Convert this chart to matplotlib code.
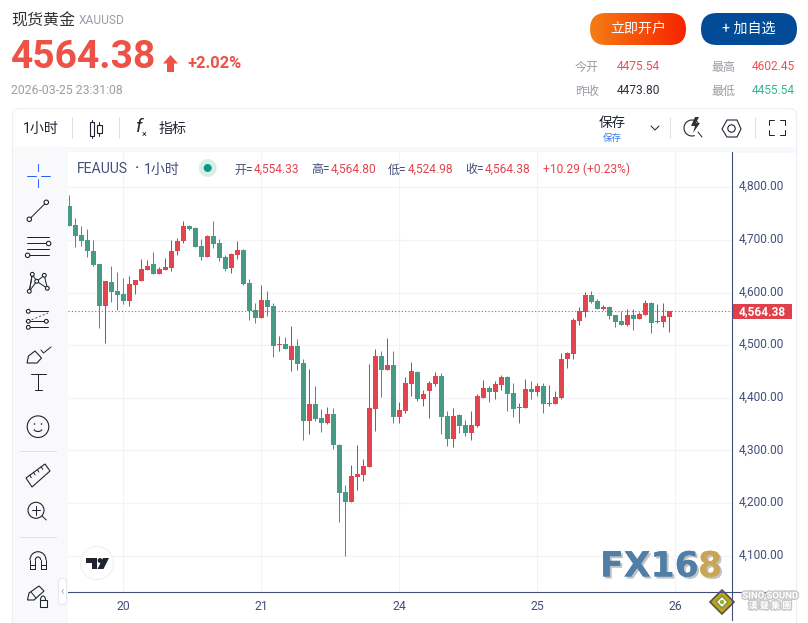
import numpy as np
import matplotlib
matplotlib.use('Agg')
import matplotlib.pyplot as plt
import matplotlib.patheffects as pe
from matplotlib.patches import Circle, FancyBboxPatch, Polygon, Rectangle, Arc
from matplotlib.transforms import ScaledTranslation

# hourly gold candles
opens = [4764, 4728, 4709, 4700, 4679, 4654, 4575, 4620, 4603, 4597, 4584, 4614, 4622, 4643, 4654, 4636, 4643,
         4647, 4678, 4697, 4726, 4723, 4688, 4668, 4707, 4694, 4667, 4646, 4672, 4680, 4619, 4566, 4552, 4585,
         4575, 4501, 4503, 4471, 4499, 4467, 4355, 4389, 4362, 4353, 4370, 4311, 4221, 4202, 4250, 4254, 4269,
         4379, 4480, 4453, 4462, 4363, 4375, 4426, 4449, 4397, 4413, 4426, 4441, 4365, 4321, 4367, 4348, 4333,
         4346, 4399, 4418, 4411, 4424, 4439, 4409, 4380, 4380, 4416, 4411, 4422, 4388, 4388, 4399, 4473, 4483,
         4546, 4563, 4595, 4584, 4568, 4572, 4557, 4546, 4538, 4557, 4549, 4557, 4580, 4544, 4544, 4554.33]
highs = [4785, 4742, 4726, 4720, 4700, 4654, 4622, 4650, 4639, 4628, 4631, 4624, 4664, 4662, 4677, 4648, 4666,
         4700, 4704, 4736, 4728, 4725, 4702, 4709, 4736, 4702, 4671, 4676, 4697, 4682, 4625, 4581, 4615, 4602,
         4581, 4518, 4516, 4537, 4512, 4474, 4455, 4423, 4379, 4383, 4381, 4313, 4235, 4273, 4311, 4284, 4465,
         4493, 4488, 4514, 4489, 4392, 4439, 4468, 4451, 4414, 4432, 4449, 4447, 4375, 4380, 4369, 4357, 4375,
         4407, 4433, 4422, 4432, 4443, 4441, 4428, 4390, 4435, 4432, 4428, 4428, 4424, 4413, 4485, 4487, 4551,
         4572, 4601, 4603, 4587, 4576, 4574, 4557, 4565, 4568, 4568, 4563, 4586, 4582, 4578, 4580, 4564.80]
lows = [4727, 4687, 4689, 4668, 4650, 4533, 4504, 4582, 4567, 4579, 4575, 4598, 4622, 4643, 4636, 4636, 4643,
        4641, 4672, 4695, 4718, 4687, 4662, 4668, 4685, 4660, 4640, 4638, 4663, 4615, 4548, 4543, 4552, 4556,
        4478, 4488, 4493, 4450, 4453, 4320, 4332, 4356, 4335, 4351, 4303, 4164, 4100, 4202, 4225, 4242, 4269,
        4337, 4402, 4453, 4352, 4353, 4371, 4403, 4393, 4384, 4361, 4422, 4331, 4308, 4306, 4334, 4327, 4319,
        4344, 4399, 4392, 4397, 4414, 4374, 4363, 4352, 4380, 4397, 4403, 4372, 4384, 4388, 4397, 4456, 4473,
        4538, 4553, 4580, 4568, 4566, 4549, 4534, 4538, 4536, 4528, 4549, 4557, 4523, 4542, 4534, 4524.98]
closes = [4727, 4708, 4698, 4678, 4652, 4575, 4622, 4601, 4595, 4584, 4616, 4624, 4645, 4650, 4636, 4645, 4648,
          4679, 4698, 4726, 4721, 4687, 4668, 4707, 4693, 4666, 4645, 4674, 4680, 4617, 4564, 4552, 4585, 4573,
          4499, 4503, 4493, 4499, 4465, 4355, 4389, 4360, 4353, 4370, 4311, 4219, 4202, 4252, 4256, 4271, 4381,
          4480, 4453, 4463, 4363, 4376, 4428, 4451, 4397, 4407, 4428, 4441, 4363, 4321, 4365, 4346, 4333, 4348,
          4403, 4418, 4411, 4426, 4439, 4407, 4378, 4382, 4416, 4411, 4422, 4388, 4390, 4401, 4473, 4485, 4547,
          4565, 4595, 4582, 4568, 4572, 4555, 4544, 4538, 4557, 4549, 4559, 4580, 4542, 4546, 4555, 4564.38]

y_ticks = [4100, 4200, 4300, 4400, 4500, 4600, 4700, 4800]
day_pos = [9, 32, 55, 78, 101]
day_labels = ['20', '21', '24', '25', '26']

W, H = 808, 623
UP = '#e3454e'
DOWN = '#469b87'
UP_WICK = '#a84b5a'
DOWN_WICK = '#568d74'
INK = '#1f2430'
NAVY = '#434f78'
GREY = '#9a9da6'
FONT = ['Roboto', 'Noto Sans CJK SC', 'DejaVu Sans']

fig = plt.figure(figsize=(W / 100, H / 100), dpi=100, facecolor='white')


def px_axes(z):
    a = fig.add_axes([0, 0, 1, 1], zorder=z)
    a.set_xlim(0, W)
    a.set_ylim(H, 0)
    a.axis('off')
    a.patch.set_alpha(0)
    return a


bg = px_axes(0)
fg = px_axes(2)


def txt(x, y, s, size, color=INK, ha='left', weight='normal', a=None, **kw):
    a = a or fg
    return a.text(x, y, s, fontsize=size * 0.72, color=color, ha=ha, va='center', weight=weight,
                  family=FONT, **kw)


def line(xs, ys, color=INK, lw=1.0, a=None, **kw):
    a = a or fg
    a.plot(xs, ys, color=color, lw=lw * 0.72, solid_capstyle='round', **kw)


def node(x, y, r=2.2, color=INK):
    fg.add_patch(Circle((x, y), r, fc='white', ec=color, lw=0.8, zorder=5))


# page frame
bg.add_patch(FancyBboxPatch((12.5, 108.5), 784, 530, boxstyle='round,pad=0,rounding_size=7',
                            fc='white', ec='#eceef3', lw=0.8))
bg.add_patch(Rectangle((13, 147), 783, 6, fc='#f7f8fb', ec='none'))
bg.add_patch(Rectangle((13, 147), 49, 476, fc='#f9f9fc', ec='none'))
bg.add_patch(Rectangle((62, 147), 6, 476, fc='#f8f9fd', ec='none'))

# headline block
txt(11, 21, '现货黄金', 16, '#333333')
txt(79, 20, 'XAUUSD', 12, GREY)
txt(11, 57, '4564.38', 39, '#ee5145', weight='bold')
fg.add_patch(Polygon([(170.5, 55), (178, 63.5), (174, 63.5), (174, 72), (167, 72), (167, 63.5), (163, 63.5)],
                     fc='#ee5145', ec='none'))
txt(188, 64, '+2.02%', 16.5, '#ee5145', weight='bold')
txt(11, 90, '2026-03-25 23:31:08', 12.2, GREY)

# buttons
grad = np.linspace(0, 1, 200).reshape(1, -1, 1)
rgb = np.array([0.96, 0.49, 0.08]) * (1 - grad) + np.array([0.97, 0.14, 0.0]) * grad
im = fg.imshow(rgb, extent=(590, 686, 45, 13), aspect='auto', zorder=1)
btn = FancyBboxPatch((590, 13), 96, 32, boxstyle='round,pad=0,rounding_size=16', fc='none', ec='none',
                     transform=fg.transData)
fg.add_patch(btn)
im.set_clip_path(btn)
fg.set_xlim(0, W)
fg.set_ylim(H, 0)
fg.add_patch(FancyBboxPatch((701, 13), 96, 32, boxstyle='round,pad=0,rounding_size=16', fc='#024b96', ec='none'))
txt(638, 29, '立即开户', 14, 'white', ha='center', zorder=3)
txt(749, 29, '+ 加自选', 14, 'white', ha='center', zorder=3)

# quote table
txt(575, 67, '今开', 12, GREY)
txt(617, 66, '4475.54', 12, '#ee4f55')
txt(711, 67, '最高', 12, GREY)
txt(752, 66, '4602.45', 12, '#ee4f55')
txt(575, 91, '昨收', 12, GREY)
txt(617, 90, '4473.80', 12, '#2a3040')
txt(711, 91, '最低', 12, GREY)
txt(752, 90, '4455.54', 12, '#2fb894')

# top toolbar
txt(23, 129, '1小时', 14, INK)
txt(159, 129, '指标', 14, INK)
txt(612, 123, '保存', 13.5, INK, ha='center')
txt(612, 138, '保存', 9.5, '#3d7bf0', ha='center')
for sx in [71.5, 118.5, 669.5, 754.5]:
    line([sx, sx], [117, 138], '#dfe1e9', 1.0)
# candle icon
line([91.7, 91.7], [120, 138], INK)
fg.add_patch(Rectangle((89.5, 122), 4.5, 14, fc='white', ec=INK, lw=0.8, zorder=3))
line([99.3, 99.3], [122, 136], INK)
fg.add_patch(Rectangle((97, 125), 4.6, 8, fc='white', ec=INK, lw=0.8, zorder=3))
# fx icon
txt(136, 127, 'f', 19, INK, style='italic')
txt(142, 134, '×', 9, INK)
# chevron
line([651, 655, 659], [126, 130, 126], INK)
# flash magnifier
fg.add_patch(Arc((692, 128), 16, 16, theta1=70, theta2=320, ec=INK, lw=0.8))
line([698, 702], [132, 137], INK)
fg.add_patch(Polygon([(695, 117), (691, 126), (695, 126), (693, 133), (700, 123), (696, 123), (699, 117)],
                     fc='#333', ec='none'))
# hexagon
fg.add_patch(Polygon([(722, 129), (727, 120), (737, 120), (741, 129), (737, 137), (727, 137)],
                     fc='none', ec=INK, lw=0.8))
fg.add_patch(Circle((731.5, 128.5), 3.7, fc='none', ec=INK, lw=0.8))
# fullscreen corners
for cx, sx_ in [(769, 1), (785, -1)]:
    for cy, sy_ in [(120, 1), (135, -1)]:
        line([cx + 5 * sx_, cx, cx], [cy, cy, cy + 5 * sy_], INK)

# left toolbar
line([27, 36], [175.5, 175.5], '#2962ff')
line([41, 50], [175.5, 175.5], '#2962ff')
line([38.3, 38.3], [164, 171], '#2962ff')
line([38.3, 38.3], [179, 187], '#2962ff')
line([29.3, 46.3], [219.3, 202.3])
node(29.3, 219.3)
node(46.3, 202.3)
for ly in [237.3, 243.3, 249.3, 255.3]:
    line([27, 49], [ly, ly])
node(48.6, 243.5)
node(27.6, 255.3)
nodes = [(29.3, 291.3), (32.3, 274.3), (36.7, 281.3), (44.3, 275.3), (47.3, 288.3)]
for p, q in [(0, 1), (1, 2), (2, 3), (3, 4), (2, 4), (0, 2), (1, 0)]:
    line([nodes[p][0], nodes[q][0]], [nodes[p][1], nodes[q][1]])
for nx, ny in nodes:
    node(nx, ny, 1.9)
for ly in [311.3, 321.3, 327.3]:
    line([28, 48], [ly, ly])
line([28, 48], [321.3, 313], '#555555', ls=(0, (2, 2)))
node(28.3, 311.3, 1.9)
node(28.3, 321.3, 1.9)
node(46.3, 321.3, 1.9)
node(28.3, 327.3, 1.9)
fg.add_patch(Polygon([(27, 363), (28.5, 356), (35, 351), (41.5, 358), (37, 363)], fc='none', ec=INK, lw=0.8))
line([41, 43.5, 51], [350, 353, 347])
line([31, 46], [374, 374])
line([38.3, 38.3], [374, 390])
line([35, 42], [390, 390])
fg.add_patch(Circle((38, 426.7), 10.8, fc='none', ec=INK, lw=0.8))
fg.add_patch(Circle((34.5, 424), 0.8, fc=INK, ec='none'))
fg.add_patch(Circle((41.5, 424), 0.8, fc=INK, ec='none'))
fg.add_patch(Arc((38, 428), 9, 7, theta1=20, theta2=160, ec=INK, lw=0.8))
line([20, 56], [451, 451], '#dcdfec')
fg.add_patch(Polygon([(26, 478), (45, 464), (50, 471), (32, 487)], fc='none', ec=INK, lw=0.8))
for t in [0.2, 0.4, 0.6, 0.8]:
    tx = 26 + 19 * t
    ty = 478 - 14 * t
    line([tx, tx + 1.5], [ty, ty + 2.5])
fg.add_patch(Circle((36, 510.3), 8, fc='none', ec=INK, lw=0.8))
line([42, 46.3], [516, 520])
line([32, 40], [510.3, 510.3])
line([36, 36], [506, 514.5])
line([20, 56], [536.7, 536.7], '#dcdfec')
# magnet, y runs downward here so the top half is 180..360
fg.add_patch(Arc((38, 560), 16, 16.6, theta1=180, theta2=360, ec=INK, lw=0.8))
fg.add_patch(Arc((38, 560), 5.4, 6, theta1=180, theta2=360, ec=INK, lw=0.8))
for mx, ix in [(30, 35.3), (46, 40.7)]:
    line([mx, mx], [560, 569.3])
    line([ix, ix], [560, 569.3])
    line([mx, ix, ix, mx], [569.3, 569.3, 565, 565])
# pencil with lock
fg.add_patch(Polygon([(27.5, 600), (29, 593), (39, 586), (44, 591), (34, 600)], fc='none', ec=INK, lw=0.8))
line([31, 36], [592, 598])
fg.add_patch(Arc((43, 600), 5, 8, theta1=180, theta2=360, ec=INK, lw=0.8))
fg.add_patch(Rectangle((39.5, 600), 7.5, 6.5, fc='white', ec=INK, lw=0.8, zorder=4))
fg.add_patch(FancyBboxPatch((58.5, 578.5), 8, 26, boxstyle='round,pad=0,rounding_size=3.5', fc='white',
                            ec='#e8e8f2', lw=0.8))
txt(62.5, 591, '‹', 12, '#aaaaaa', ha='center')

# chart panel, pixel box 68..732 x 152..592
ax = fig.add_axes([68 / W, 1 - 592 / H, 664 / W, 440 / H], zorder=1)
ax.set_facecolor('white')
x = np.arange(len(opens))
o, h, l, c = map(np.array, (opens, highs, lows, closes))
rising = c >= o
ax.vlines(x[rising], l[rising], h[rising], color=UP_WICK, lw=0.72, zorder=3)
ax.vlines(x[~rising], l[~rising], h[~rising], color=DOWN_WICK, lw=0.72, zorder=3)
ax.bar(x[rising], (c - o)[rising], bottom=o[rising], width=0.82, color=UP, zorder=4)
ax.bar(x[~rising], (c - o)[~rising], bottom=o[~rising], width=0.82, color=DOWN, zorder=4)
ax.axhline(closes[-1], color='#d9444e', lw=0.8, ls=(0, (1, 2)), zorder=5)
ax.set_xlim(-0.22, 110.45)
ax.set_ylim(4031, 4867)
ax.set_xticks(day_pos, day_labels)
ax.set_yticks(y_ticks, [f'{v:,.2f}' for v in y_ticks])
ax.yaxis.tick_right()
ax.grid(True, color='#f1f3f8', lw=0.8, zorder=0)
ax.tick_params(length=0)
ax.tick_params(axis='x', pad=6, labelsize=8.8, labelcolor=NAVY)
ax.tick_params(axis='y', pad=5, labelsize=8.6, labelcolor=NAVY)
for lab in ax.get_xticklabels() + ax.get_yticklabels():
    lab.set_family(FONT)
up2 = ScaledTranslation(0, 2 / 100, fig.dpi_scale_trans)
for tick in ax.yaxis.get_major_ticks():
    tick.label2.set_transform(tick.label2.get_transform() + up2)
for sp in ax.spines.values():
    sp.set_visible(False)
ax.add_patch(Rectangle((1.002, closes[-1] - 14.5), 0.089, 29, transform=ax.get_yaxis_transform(),
                       clip_on=False, fc='#df4049', ec='none', zorder=6))
ax.text(1.0105, closes[-1], f'{closes[-1]:,.2f}', transform=ax.get_yaxis_transform(), color='white',
        fontsize=8.6, weight='bold', family=FONT, va='center', clip_on=False, zorder=7)

# axis rules run past the panel
fg.plot([732, 732], [152, 620], color=NAVY, lw=0.8)
fg.plot([68, 797], [592, 592], color=NAVY, lw=0.8)

# legend row of the chart
txt(77, 169, 'FEAUUS', 14, NAVY)
txt(135, 168, '·', 14, NAVY, weight='bold')
txt(144, 170, '1小时', 14, NAVY)
fg.add_patch(Circle((207.7, 168), 9, fc='#d8efe9', ec='none'))
fg.add_patch(Circle((207.7, 168), 4, fc='#0a9981', ec='none'))
lx = 234
for name, val in [('开=', '4,554.33'), ('高=', '4,564.80'), ('低=', '4,524.98'), ('收=', '4,564.38')]:
    txt(lx, 170, name, 12, NAVY)
    txt(lx + 20, 169, val, 12, '#e2454e')
    lx += 77
txt(543, 169, '+10.29 (+0.23%)', 12, '#e2454e')

# tradingview badge
fg.add_patch(Circle((97, 563), 16.5, fc='white', ec='#f0f0f3', lw=0.8))
fg.add_patch(Polygon([(86, 558), (97, 558), (97, 569), (92, 569), (92, 563), (86, 563)], fc=INK, ec='none'))
fg.add_patch(Circle((100, 560.5), 2.4, fc=INK, ec='none'))
fg.add_patch(Polygon([(103, 558), (109, 558), (103.5, 569), (97.5, 569)], fc=INK, ec='none'))

# watermark
logo_fx = [pe.withSimplePatchShadow(offset=(1.5, -1.5), shadow_rgbFace='#888888', alpha=0.5), pe.Normal()]
fg.text(600, 566.5, 'FX16', fontsize=25, weight='bold', color='#4f7fa6', family='DejaVu Sans', va='center',
        path_effects=logo_fx)
fg.text(698, 566.5, '8', fontsize=25, weight='bold', color='#c9a657', family='DejaVu Sans', va='center',
        path_effects=logo_fx)
shadow = [pe.withStroke(linewidth=2.2, foreground='#c9c9c9')]
fg.add_patch(Polygon([(722, 590), (734, 602), (722, 614), (710, 602)], fc='#c4a21c', ec='#555544', lw=1.2))
fg.add_patch(Polygon([(722, 596), (728, 602), (722, 608), (716, 602)], fc='white', ec='#7f9a3a', lw=1.2))
fg.add_patch(Circle((722, 602), 2.2, fc='#8fb339', ec='none'))
txt(770, 596, 'SINO SOUND', 9.5, 'white', ha='center', weight='bold', path_effects=shadow)
txt(770, 606, '漢 聲 集 團', 9, 'white', ha='center', weight='bold', path_effects=shadow)

fig.savefig('out.png', dpi=100)
